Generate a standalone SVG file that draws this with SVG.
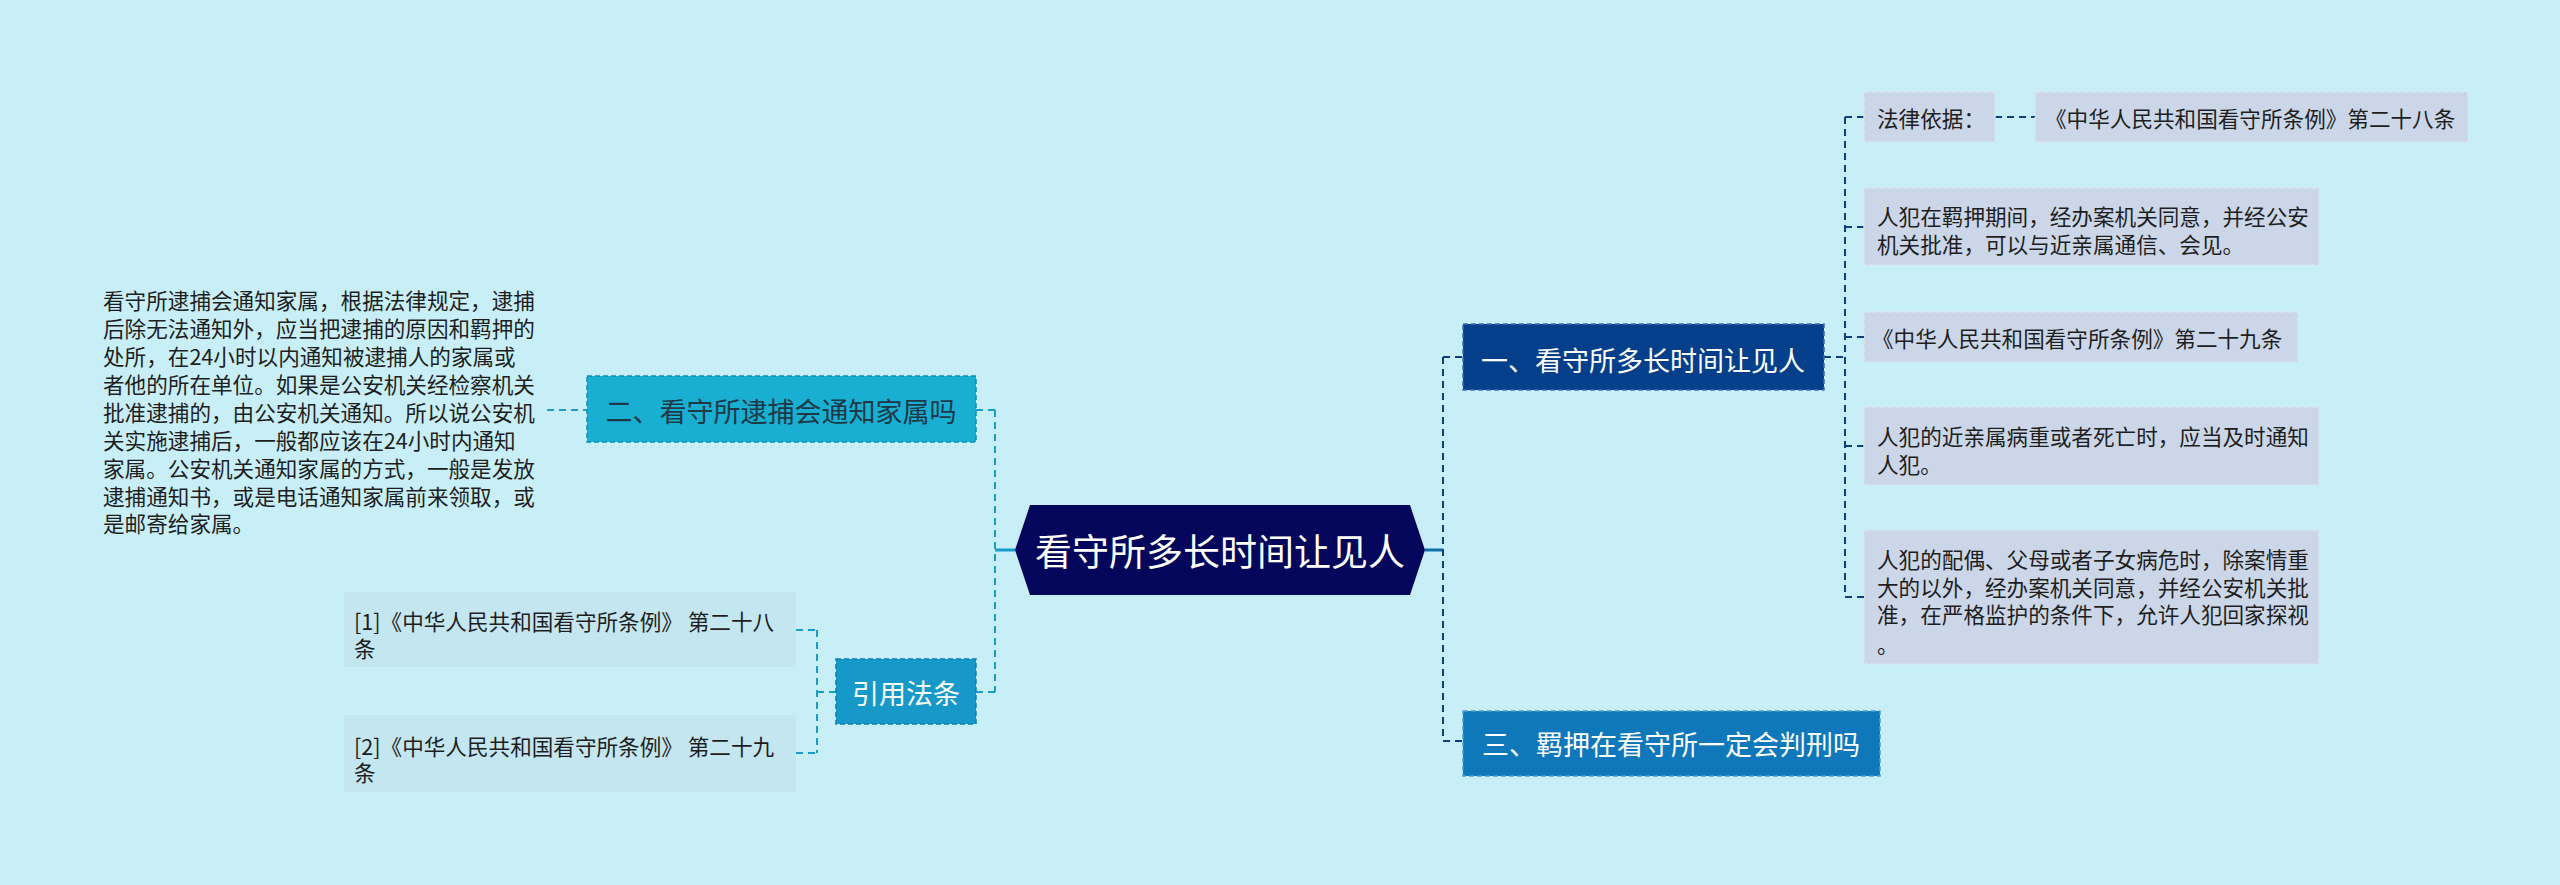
<svg xmlns="http://www.w3.org/2000/svg" width="2560" height="885" viewBox="0 0 2560 885">
<style>
text{font-family:"Noto Sans CJK SC","Noto Sans",sans-serif;dominant-baseline:central}
.s{font-size:21.6px;fill:#1e1e1e}
.m{font-size:27px}
.w{fill:#ffffff}
.leaf{fill:#cbd7e8;stroke:#dbe4ef;stroke-width:1.5;stroke-dasharray:5 3}
.ref{fill:#c4e6f0}
.cr{fill:none;stroke:#0b3f80;stroke-width:2;stroke-dasharray:7 5}
.cl{fill:none;stroke:#1a9ccc;stroke-width:2;stroke-dasharray:7 5}
</style>
<rect x="0" y="0" width="2560" height="885" fill="#c8eff7"/>
<g id="connectors">
<line x1="995" y1="550" x2="1015" y2="550" stroke="#1a9ccc" stroke-width="3"/>
<line x1="1425" y1="550" x2="1443" y2="550" stroke="#0b6fae" stroke-width="3"/>
<path class="cl" d="M995 410V692M976 410H995M976 692H995M547 410H587M836 692H817M817 630V753M796 630H817M796 753H817"/>
<path class="cr" d="M1443 357V741M1443 357H1463M1443 741H1463M1824 357H1845M1845 117V597M1845 117H1864M1845 227H1864M1845 337H1864M1845 446H1864M1845 597H1864M1995 117H2035"/>
</g>
<g id="root">
<polygon points="1015,550 1030,505 1410,505 1425,550 1410,595 1030,595" fill="#03065a"/>
<text x="1220" y="550" text-anchor="middle" font-size="37" class="w">看守所多长时间让见人</text>
</g>
<g id="n1">
<rect x="1463" y="324" width="361" height="66" fill="#033f8a" stroke="#3a6db0" stroke-width="1.5" stroke-dasharray="5 3"/>
<text x="1643" y="359" text-anchor="middle" class="m w">一、看守所多长时间让见人</text>
</g>
<g id="n3">
<rect x="1463" y="711" width="417" height="65" fill="#0e78bb" stroke="#4b9fd4" stroke-width="1.5" stroke-dasharray="5 3"/>
<text x="1671" y="743" text-anchor="middle" class="m w">三、羁押在看守所一定会判刑吗</text>
</g>
<g id="n2">
<rect x="587" y="376" width="389" height="66" fill="#18afd2" stroke="#0c8db6" stroke-width="1.5" stroke-dasharray="5 3"/>
<text x="781" y="410" text-anchor="middle" class="m" fill="#1d3846">二、看守所逮捕会通知家属吗</text>
</g>
<g id="n2-text">
<text class="s" x="103" y="299">看守所逮捕会通知家属，根据法律规定，逮捕</text>
<text class="s" x="103" y="327">后除无法通知外，应当把逮捕的原因和羁押的</text>
<text class="s" x="103" y="355">处所，在24小时以内通知被逮捕人的家属或</text>
<text class="s" x="103" y="383">者他的所在单位。如果是公安机关经检察机关</text>
<text class="s" x="103" y="411">批准逮捕的，由公安机关通知。所以说公安机</text>
<text class="s" x="103" y="439">关实施逮捕后，一般都应该在24小时内通知</text>
<text class="s" x="103" y="467">家属。公安机关通知家属的方式，一般是发放</text>
<text class="s" x="103" y="495">逮捕通知书，或是电话通知家属前来领取，或</text>
<text class="s" x="103" y="522">是邮寄给家属。</text>
</g>
<g id="n4">
<rect x="836" y="659" width="140" height="65" fill="#1698c8" stroke="#0c7fb0" stroke-width="1.5" stroke-dasharray="5 3"/>
<text x="906" y="692" text-anchor="middle" class="m w">引用法条</text>
</g>
<g id="ref1">
<rect class="ref" x="344" y="592" width="452" height="75"/>
<text class="s" x="354" y="620">[1]《中华人民共和国看守所条例》 第二十八</text>
<text class="s" x="354" y="647">条</text>
</g>
<g id="ref2">
<rect class="ref" x="344" y="715" width="452" height="77"/>
<text class="s" x="354" y="745">[2]《中华人民共和国看守所条例》 第二十九</text>
<text class="s" x="354" y="771">条</text>
</g>
<g id="l1">
<rect class="leaf" x="1864" y="92" width="131" height="50"/>
<text class="s" x="1877" y="117">法律依据：</text>
</g>
<g id="l1b">
<rect class="leaf" x="2035" y="92" width="433" height="50"/>
<text class="s" x="2045" y="117">《中华人民共和国看守所条例》第二十八条</text>
</g>
<g id="l2">
<rect class="leaf" x="1864" y="188" width="455" height="77"/>
<text class="s" x="1877" y="215">人犯在羁押期间，经办案机关同意，并经公安</text>
<text class="s" x="1877" y="243">机关批准，可以与近亲属通信、会见。</text>
</g>
<g id="l3">
<rect class="leaf" x="1864" y="312" width="434" height="50"/>
<text class="s" x="1872" y="337">《中华人民共和国看守所条例》第二十九条</text>
</g>
<g id="l4">
<rect class="leaf" x="1864" y="407" width="455" height="78"/>
<text class="s" x="1877" y="435">人犯的近亲属病重或者死亡时，应当及时通知</text>
<text class="s" x="1877" y="463">人犯。</text>
</g>
<g id="l5">
<rect class="leaf" x="1864" y="530" width="455" height="134"/>
<text class="s" x="1877" y="558">人犯的配偶、父母或者子女病危时，除案情重</text>
<text class="s" x="1877" y="586">大的以外，经办案机关同意，并经公安机关批</text>
<text class="s" x="1877" y="613">准，在严格监护的条件下，允许人犯回家探视</text>
<text class="s" x="1877" y="643">。</text>
</g>
</svg>
